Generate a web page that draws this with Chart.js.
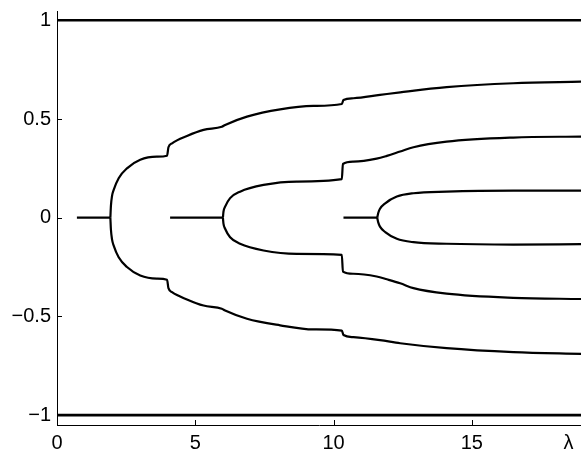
<!DOCTYPE html>
<html>
<head>
<meta charset="utf-8">
<script src="https://cdn.jsdelivr.net/npm/chart.js@4.4.0/dist/chart.umd.min.js"></script>
<style>
  html, body { margin: 0; padding: 0; background: #fff; overflow: hidden; }
  #wrap { width: 581px; height: 451px; position: relative; }
</style>
</head>
<body>
<div id="wrap"><canvas id="bif"></canvas></div>
<script>
// tick labels
const xTicks = [0, 5, 10, 15];
const yTicks = [-1, -0.5, 0, 0.5, 1];
const yTickLabels = ['\u22121', '\u22120.5', '0', '0.5', '1'];
const xLabelPos = 18.5; // where the λ label sits

// bounding lines at +1 / -1
const edgeX = [0, 19];
const edgeTop = [1, 1];
const edgeBottom = [-1, -1];

// flat stems before each split
const stem1X = [0.72, 1.93];
const stem2X = [4.09, 6.0];
const stem3X = [10.36, 11.58];

// first (outer) branch
const b1X  = [1.93, 1.95, 1.99, 2.05, 2.23, 2.53, 3.01, 3.61, 3.98, 4.03, 4.16, 4.70, 5.30, 5.96, 6.08, 6.87, 8.07, 9.27, 10.30, 10.36, 10.72, 11.68, 12.41, 14.09, 16.5, 19.0];
const b1Up = [0, 0.06, 0.11, 0.141, 0.2, 0.25, 0.293, 0.309, 0.314, 0.357, 0.377, 0.414, 0.445, 0.461, 0.47, 0.512, 0.549, 0.566, 0.576, 0.596, 0.605, 0.622, 0.635, 0.661, 0.681, 0.689];
const b1Lo = [0, -0.06, -0.11, -0.141, -0.2, -0.25, -0.293, -0.309, -0.314, -0.357, -0.377, -0.414, -0.445, -0.461, -0.47, -0.512, -0.545, -0.566, -0.572, -0.594, -0.605, -0.62, -0.636, -0.661, -0.681, -0.69];

// second branch
const b2X  = [6.0, 6.02, 6.08, 6.26, 6.62, 7.47, 8.67, 10.30, 10.34, 10.72, 11.56, 11.93, 12.41, 12.89, 14.09, 16.5, 19.0];
const b2Up = [0, 0.03, 0.056, 0.099, 0.132, 0.166, 0.183, 0.195, 0.272, 0.284, 0.299, 0.313, 0.335, 0.357, 0.385, 0.406, 0.411];
const b2Lo = [0, -0.03, -0.056, -0.099, -0.132, -0.166, -0.183, -0.188, -0.273, -0.284, -0.298, -0.312, -0.332, -0.357, -0.385, -0.406, -0.412];

// third (inner) branch
const b3X  = [11.58, 11.62, 11.68, 11.87, 12.29, 12.89, 14.09, 16.5, 19.0];
const b3Up = [0, 0.025, 0.045, 0.073, 0.107, 0.124, 0.132, 0.137, 0.137];
const b3Lo = [0, -0.025, -0.045, -0.073, -0.107, -0.124, -0.132, -0.136, -0.134];

const pts = (xs, ys) => xs.map((x, i) => ({ x: x, y: ys[i] }));
const flat = (xs) => xs.map(x => ({ x: x, y: 0 }));

const line = (data, width) => ({
    data: data,
    borderColor: '#000',
    borderWidth: width || 2.2,
    pointRadius: 0,
    cubicInterpolationMode: 'monotone',
    fill: false
});

// tick marks drawn inward, like the original
const innerTicks = {
    id: 'innerTicks',
    afterDraw(chart) {
        const ctx = chart.ctx;
        const area = chart.chartArea;
        const xs = chart.scales.x, ys = chart.scales.y;
        ctx.save();
        ctx.strokeStyle = '#000';
        ctx.lineWidth = 1;
        ctx.beginPath();
        xTicks.forEach(v => {
            const px = Math.round(xs.getPixelForValue(v)) + 0.5;
            ctx.moveTo(px, area.bottom);
            ctx.lineTo(px, area.bottom - 5);
        });
        yTicks.forEach(v => {
            const py = Math.round(ys.getPixelForValue(v)) + 0.5;
            ctx.moveTo(area.left, py);
            ctx.lineTo(area.left + 5, py);
        });
        ctx.stroke();
        ctx.restore();
    }
};

new Chart(document.getElementById('bif'), {
    type: 'line',
    data: {
        datasets: [
            line(pts(edgeX, edgeTop), 2.6),
            line(pts(edgeX, edgeBottom), 2.6),
            line(flat(stem1X)),
            line(pts(b1X, b1Up)),
            line(pts(b1X, b1Lo)),
            line(flat(stem2X)),
            line(pts(b2X, b2Up)),
            line(pts(b2X, b2Lo)),
            line(flat(stem3X)),
            line(pts(b3X, b3Up)),
            line(pts(b3X, b3Lo))
        ]
    },
    options: {
        responsive: true,
        maintainAspectRatio: false,
        animation: false,
        layout: { padding: { top: 11, right: 0, left: 0, bottom: 0 } },
        plugins: {
            legend: { display: false },
            tooltip: { enabled: false }
        },
        scales: {
            x: {
                type: 'linear',
                min: 0,
                max: 18.95,
                afterBuildTicks: (s) => { s.ticks = xTicks.concat([xLabelPos]).map(v => ({ value: v })); },
                afterFit: (s) => { s.height = 26; s.paddingLeft = 0; s.paddingRight = 0; },
                grid: { display: false, drawTicks: false },
                border: { display: true, color: '#000', width: 1 },
                ticks: {
                    autoSkip: false,
                    maxRotation: 0,
                    padding: 6,
                    color: '#000',
                    font: { family: 'Liberation Sans', size: 20 },
                    callback: (v) => v === xLabelPos ? '\u03bb' : String(v)
                }
            },
            y: {
                min: -1.05,
                max: 1.047,
                afterBuildTicks: (s) => { s.ticks = yTicks.map(v => ({ value: v })); },
                afterFit: (s) => { s.width = 57; s.paddingTop = 0; s.paddingBottom = 0; },
                grid: { display: false, drawTicks: false },
                border: { display: true, color: '#000', width: 1 },
                ticks: {
                    autoSkip: false,
                    padding: 6,
                    color: '#000',
                    font: { family: 'Liberation Sans', size: 20 },
                    callback: (v) => yTickLabels[yTicks.indexOf(v)]
                }
            }
        }
    },
    plugins: [innerTicks]
});
</script>
</body>
</html>
